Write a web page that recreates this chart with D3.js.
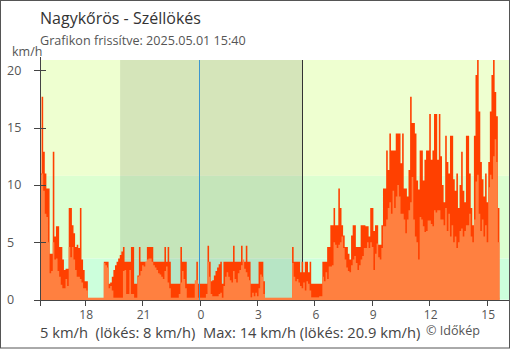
<!DOCTYPE html>
<html>
<head>
<meta charset="utf-8">
<script src="https://cdn.jsdelivr.net/npm/d3@7"></script>
<style>
  html, body { margin: 0; padding: 0; background: #fff; }
  svg { display: block; font-family: "Open Sans", "Noto Sans", sans-serif; }
</style>
</head>
<body>
<svg id="chart" width="510" height="350"></svg>
<script>
// ---- texts ----
const titleText = "Nagykőrös - Széllökés";
const updatedText = "Grafikon frissítve: 2025.05.01 15:40";
const unitLabel = "km/h";
const summaryText = "5 km/h  (lökés: 8 km/h)  Max: 14 km/h (lökés: 20.9 km/h)";
const creditText = "© Időkép";

// ---- time frame ----
const seriesStart = "2025-04-30T15:40";   // first sample
const stepMinutes = 5;                    // sample spacing
const axisStart = "2025-04-30T15:40";
const axisEnd = "2025-05-01T16:10";
const sunset = "2025-04-30T19:51";
const sunrise = "2025-05-01T05:22";
const midnight = "2025-05-01T00:00";
const xTicks = ["2025-04-30T18:00", "2025-04-30T21:00", "2025-05-01T00:00", "2025-05-01T03:00",
                "2025-05-01T06:00", "2025-05-01T09:00", "2025-05-01T12:00", "2025-05-01T15:00"];
const yTicks = [0, 5, 10, 15, 20];
const yMax = 20.9;

// wind bands (km/h) and their fills
const bandLimits = [0, 3.6, 10.8, yMax];
const bandColors = ["#ccffdc", "#dcffd0", "#eeffd0"];

// ---- measurements, km/h, one value per 5 minutes ----
const gust = [
  11.0,17.7,12.9,11.0,9.7,9.7,4.0,4.0,12.9,5.5,6.4,6.4,        // 15:40
  4.6,4.6,3.5,2.6,2.7,2.7,8.0,8.0,6.5,5.8,4.6,4.8,             // 16:40
  4.5,8.0,3.5,2.6,1.6,1.6,0,0,0,0,0,0,                         // 17:40
  0,0,0,0,3.3,3.3,3.3,1.4,1.5,2.0,2.6,3.0,                     // 18:40
  3.3,3.6,3.9,4.2,4.6,3.3,3.3,3.3,3.3,4.6,4.6,1.4,             // 19:40
  1.4,2.1,4.6,3.3,3.3,3.3,3.3,4.6,4.6,4.6,4.6,3.3,             // 20:40
  3.3,3.3,3.3,3.3,3.3,3.3,4.6,3.3,4.6,3.3,1.4,1.4,             // 21:40
  1.4,1.4,1.4,1.4,4.6,3.3,3.3,3.3,1.4,1.4,1.4,1.4,             // 22:40
  1.4,1.4,3.3,1.4,1.4,1.4,1.4,1.4,1.4,4.7,3.3,1.6,             // 23:40
  1.7,2.1,2.5,2.8,3.1,3.3,1.4,3.3,3.3,3.3,3.3,3.3,             // 00:40
  3.3,4.7,3.3,3.3,3.3,3.3,4.7,3.3,3.3,4.7,3.3,3.3,             // 01:40
  1.4,1.4,1.4,1.4,1.4,3.3,3.3,3.3,1.6,0,0,0,                   // 02:40
  0,0,0,0,0,0,0,0,0,0,0,0,                                     // 03:40
  0,0,4.6,3.3,3.3,3.3,3.3,2.4,3.3,2.4,3.3,3.3,                 // 04:40
  2.4,3.3,1.4,1.4,1.4,1.4,1.4,1.4,1.4,3.3,3.3,3.3,             // 05:40
  4.6,4.6,6.5,6.5,8.0,6.5,6.5,9.7,8.0,6.5,5.6,4.6,             // 06:40
  4.6,4.0,3.5,5.6,6.5,6.5,4.6,4.6,4.6,6.5,6.5,6.5,             // 07:40
  6.4,6.4,5.5,8.0,8.0,6.0,6.5,6.5,4.8,4.8,6.5,9.7,             // 08:40
  9.7,13.0,11.3,14.5,13.0,13.0,13.0,14.5,14.5,14.5,11.9,14.5,  // 09:40
  9.7,9.7,9.0,11.3,17.7,15.4,15.4,14.5,10.4,9.6,13.0,13.0,     // 10:40
  10.4,12.2,13.0,13.0,16.2,12.2,13.0,16.2,16.2,12.2,16.2,12.5, // 11:40
  10.0,8.5,14.3,12.0,11.0,14.3,14.3,10.5,9.5,11.0,8.0,10.0,    // 12:40
  12.9,9.5,8.5,14.3,14.3,11.0,8.0,6.5,14.3,19.6,20.9,16.4,     // 13:40
  12.0,10.5,9.0,11.0,8.5,12.0,16.4,19.6,20.9,18.1,16.0,8.0,    // 14:40
  8.0                                                          // 15:40
];
const wind = [
  10.9,11.0,9.5,7.5,7.2,5.0,2.3,2.5,5.0,3.5,3.6,2.5,           // 15:40
  2.0,1.3,1.0,1.0,1.8,1.2,4.6,3.7,4.6,3.5,2.6,2.0,             // 16:40
  2.0,1.8,1.5,1.0,1.0,0.8,0,0,0,0,0,0,                         // 17:40
  0,0,0,0,3.2,3.0,2.8,1.0,1.2,0.8,0,0,                         // 18:40
  0,0,0,0,2.5,2.6,0.5,0.5,2.6,0.5,0.5,0,                       // 19:40
  0,2.0,2.1,2.5,3.0,2.9,3.3,3.5,3.6,3.6,3.3,3.0,               // 20:40
  2.8,2.6,2.3,2.2,2.0,1.8,2.5,2.9,1.5,1.0,0,0,                 // 21:40
  0,0,0,0.5,1.5,2.5,1.8,1.0,0,0,0,0,                           // 22:40
  0,1.7,1.7,0,0,0,0,0,0.5,3.3,2.0,0.5,                         // 23:40
  0.3,0.3,0.3,0.3,0.5,0.6,0,1.2,2.0,2.4,2.0,1.7,               // 00:40
  1.5,2.5,1.8,1.5,2.3,2.6,3.0,3.5,2.7,2.4,2.0,1.7,             // 01:40
  0.2,0.6,0.3,0.6,0.3,1.0,2.2,2.0,0.5,0,0,0,                   // 02:40
  0,0,0,0,0,0,0,0,0,0,0,0,                                     // 03:40
  0,0,3.2,2.0,1.6,1.8,1.5,1.2,1.0,1.5,0.8,1.6,                 // 04:40
  1.4,0.8,0.2,0.2,0.2,0.2,0.2,0.3,0.3,2.0,1.6,2.4,             // 05:40
  1.8,2.9,2.9,3.0,5.0,4.8,4.5,4.8,5.0,5.5,4.5,3.5,             // 06:40
  2.8,2.5,2.4,3.0,3.5,3.8,3.2,2.6,3.0,3.5,3.8,4.5,             // 07:40
  4.5,5.0,4.5,5.0,4.6,2.6,4.0,4.9,3.7,3.5,4.5,6.4,             // 08:40
  6.4,7.0,8.0,8.5,7.5,9.5,8.0,9.0,10.0,9.0,7.5,7.5,            // 09:40
  7.0,5.8,7.0,7.8,8.5,10.7,7.0,5.5,5.0,3.5,7.2,7.0,            // 10:40
  6.4,5.9,6.0,6.9,6.9,6.6,6.4,7.8,7.6,7.8,7.8,7.0,             // 11:40
  7.0,6.5,8.0,6.0,7.5,5.5,6.5,5.0,5.5,4.5,5.0,6.0,             // 12:40
  6.2,5.5,6.0,6.5,6.5,7.5,5.5,5.0,7.0,10.3,10.9,7.5,           // 13:40
  6.0,7.0,5.5,6.5,5.0,9.8,10.9,10.5,12.5,14.0,12.0,5.0,        // 14:40
  5.0                                                          // 15:40
];

// ---- colours ----
const gustColor = "#ff4000";
const windColor = "#ff8040";
const nightShade = "rgba(0,0,0,0.1)";
const midnightColor = "#3d96cf";
const axisColor = "#444";

// ---- build ----
const parse = d3.timeParse("%Y-%m-%dT%H:%M");
const t0 = parse(seriesStart);
const points = gust.map((g, i) => ({
  t: d3.timeMinute.offset(t0, i * stepMinutes),
  gust: g,
  wind: wind[i]
}));

const plot = { left: 40, right: 509, top: 60, bottom: 299.7 };
const x = d3.scaleTime().domain([parse(axisStart), parse(axisEnd)]).range([plot.left, plot.right]);
const y = d3.scaleLinear().domain([0, yMax]).range([plot.bottom, plot.top]);

const svg = d3.select("#chart");

// wind-strength bands
svg.append("g").selectAll("rect")
  .data(bandColors)
  .join("rect")
  .attr("x", plot.left)
  .attr("width", plot.right - plot.left)
  .attr("y", (c, i) => y(bandLimits[i + 1]))
  .attr("height", (c, i) => y(bandLimits[i]) - y(bandLimits[i + 1]))
  .attr("fill", c => c);

// night between sunset and sunrise
svg.append("rect")
  .attr("x", x(parse(sunset)))
  .attr("width", x(parse(sunrise)) - x(parse(sunset)))
  .attr("y", plot.top)
  .attr("height", plot.bottom - plot.top)
  .attr("fill", nightShade);

// sunrise marker
const xs = Math.round(x(parse(sunrise))) + 0.5;
svg.append("line")
  .attr("x1", xs).attr("x2", xs)
  .attr("y1", plot.top).attr("y2", y(0))
  .attr("stroke", "#333").attr("stroke-width", 1);

// gusts, then mean wind on top
const areaOf = key => d3.area()
  .x(d => x(d.t))
  .y0(y(0))
  .y1(d => y(d[key]))
  .curve(d3.curveStepAfter);

svg.append("path").datum(points)
  .attr("d", areaOf("gust"))
  .attr("fill", gustColor);

svg.append("path").datum(points)
  .attr("d", areaOf("wind"))
  .attr("fill", windColor);

// thin base strip of the wind series
const first = points[0].t, last = points[points.length - 1].t;
svg.append("rect")
  .attr("x", x(first))
  .attr("width", x(last) - x(first))
  .attr("y", y(0) - 2)
  .attr("height", 2.3)
  .attr("fill", windColor);

// midnight marker
const xm = Math.round(x(parse(midnight))) - 0.5;
svg.append("line")
  .attr("x1", xm).attr("x2", xm)
  .attr("y1", plot.top).attr("y2", 300.5)
  .attr("stroke", midnightColor).attr("stroke-width", 1);

// y axis
const yAxis = svg.append("g");
yAxis.append("line")
  .attr("x1", plot.left + 0.5).attr("x2", plot.left + 0.5)
  .attr("y1", 57).attr("y2", 306)
  .attr("stroke", axisColor);
yAxis.selectAll("line.tick")
  .data(yTicks)
  .join("line")
  .attr("class", "tick")
  .attr("x1", 34).attr("x2", 46)
  .attr("y1", d => Math.round(y(d)) + 0.5)
  .attr("y2", d => Math.round(y(d)) + 0.5)
  .attr("stroke", axisColor);
yAxis.selectAll("text")
  .data(yTicks)
  .join("text")
  .attr("x", 7)
  .attr("y", d => y(d) + 4.4)
  .attr("font-size", 12.5)
  .attr("fill", "#555")
  .text(d => d);

// x axis
const xAxis = svg.append("g");
xAxis.append("line")
  .attr("x1", 34).attr("x2", plot.right)
  .attr("y1", 300.5).attr("y2", 300.5)
  .attr("stroke", axisColor);
const tickTimes = xTicks.map(parse);
const hourFmt = d3.timeFormat("%-H");
xAxis.selectAll("line.tick")
  .data(tickTimes)
  .join("line")
  .attr("class", "tick")
  .attr("x1", d => Math.round(x(d)) + 0.5)
  .attr("x2", d => Math.round(x(d)) + 0.5)
  .attr("y1", 300.5).attr("y2", 306)
  .attr("stroke", axisColor);
xAxis.selectAll("text")
  .data(tickTimes)
  .join("text")
  .attr("x", d => x(d) + 1.5)
  .attr("y", 318.5)
  .attr("text-anchor", "middle")
  .attr("font-size", 12)
  .attr("fill", "#555")
  .text(d => hourFmt(d));

// titles and labels
svg.append("text").attr("x", 40).attr("y", 24)
  .attr("font-size", 16).attr("fill", "#333").text(titleText);
svg.append("text").attr("x", 40).attr("y", 45)
  .attr("font-size", 12.6).attr("fill", "#555").text(updatedText);
svg.append("text").attr("x", 12).attr("y", 56)
  .attr("font-size", 12.5).attr("fill", "#555").text(unitLabel);
svg.append("text").attr("x", 40).attr("y", 337.5)
  .attr("font-size", 14.7).attr("fill", "#444")
  .attr("xml:space", "preserve")
  .style("white-space", "pre").text(summaryText);
svg.append("text").attr("x", 426).attr("y", 335)
  .attr("font-size", 12.6).attr("fill", "#555").text(creditText);

// frame
svg.append("rect")
  .attr("x", 0.5).attr("y", 0.5)
  .attr("width", 509).attr("height", 347.5)
  .attr("fill", "none")
  .attr("stroke", "#555");
</script>
</body>
</html>
